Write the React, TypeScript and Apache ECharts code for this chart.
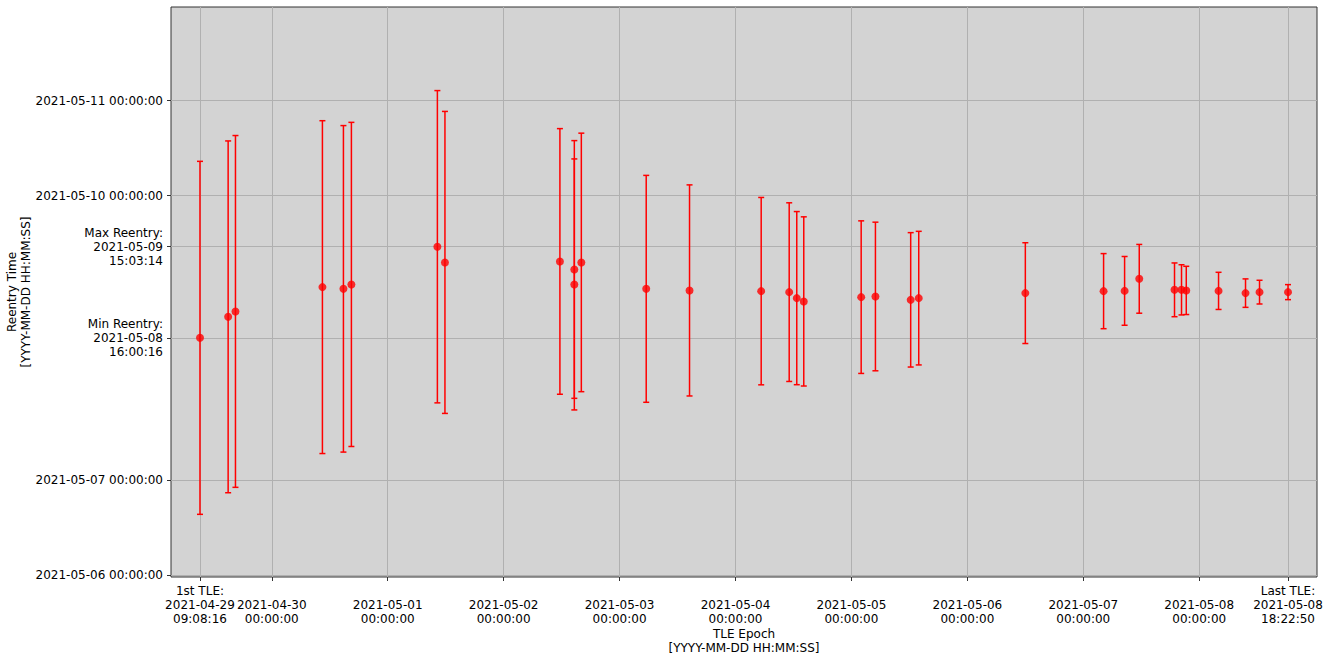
import React, { useEffect, useRef } from "react";
import * as echarts from "echarts";

// All times are UTC. Reentry day ticks are labelled in local time (UTC-4).
const tleEpochs = [
  "2021-04-29 09:08:16", "2021-04-29 14:58", "2021-04-29 16:29",
  "2021-04-30 10:29", "2021-04-30 14:50", "2021-04-30 16:29",
  "2021-05-01 10:17", "2021-05-01 11:51",
  "2021-05-02 11:39", "2021-05-02 14:38", "2021-05-02 14:38", "2021-05-02 16:05",
  "2021-05-03 05:31", "2021-05-03 14:29",
  "2021-05-04 05:19", "2021-05-04 11:07", "2021-05-04 12:41", "2021-05-04 14:08",
  "2021-05-05 02:01", "2021-05-05 04:58", "2021-05-05 12:16", "2021-05-05 13:56",
  "2021-05-06 12:00",
  "2021-05-07 04:12", "2021-05-07 08:33", "2021-05-07 11:35", "2021-05-07 18:53",
  "2021-05-07 20:20", "2021-05-07 21:19",
  "2021-05-08 04:00", "2021-05-08 09:35", "2021-05-08 12:29", "2021-05-08 18:22:50",
];

const reentryCenters = [
  "2021-05-08 16:00:16", "2021-05-08 21:19", "2021-05-08 22:41",
  "2021-05-09 04:50", "2021-05-09 04:24", "2021-05-09 05:31",
  "2021-05-09 15:03:14", "2021-05-09 11:05",
  "2021-05-09 11:20", "2021-05-09 09:18", "2021-05-09 05:31", "2021-05-09 11:05",
  "2021-05-09 04:24", "2021-05-09 04:00",
  "2021-05-09 03:49", "2021-05-09 03:34", "2021-05-09 02:03", "2021-05-09 01:13",
  "2021-05-09 02:18", "2021-05-09 02:28", "2021-05-09 01:37", "2021-05-09 02:03",
  "2021-05-09 03:19",
  "2021-05-09 03:49", "2021-05-09 03:53", "2021-05-09 06:56", "2021-05-09 04:09",
  "2021-05-09 04:09", "2021-05-09 04:00",
  "2021-05-09 03:53", "2021-05-09 03:19", "2021-05-09 03:34", "2021-05-09 03:34",
];

// half-width of the reentry window, hours
const windowHalfHours = [
  44.65, 44.5, 44.5, 42.1, 41.3, 41.0, 39.5, 38.2,
  33.6, 32.6, 31.75, 32.7, 28.7, 26.7,
  23.7, 22.6, 21.9, 21.4, 19.3, 18.8, 17.0, 16.9,
  12.75, 9.5, 8.7, 8.7, 6.8, 6.35, 6.1, 4.7, 3.6, 3.0, 1.9,
];

const xTickTimes = [
  "2021-04-29 09:08:16", "2021-04-30 00:00", "2021-05-01 00:00", "2021-05-02 00:00",
  "2021-05-03 00:00", "2021-05-04 00:00", "2021-05-05 00:00", "2021-05-06 00:00",
  "2021-05-07 00:00", "2021-05-08 00:00", "2021-05-08 18:22:50",
];
const xTickLabels = [
  "1st TLE:\n2021-04-29\n09:08:16", "\n2021-04-30\n00:00:00", "\n2021-05-01\n00:00:00",
  "\n2021-05-02\n00:00:00", "\n2021-05-03\n00:00:00", "\n2021-05-04\n00:00:00",
  "\n2021-05-05\n00:00:00", "\n2021-05-06\n00:00:00", "\n2021-05-07\n00:00:00",
  "\n2021-05-08\n00:00:00", "Last TLE:\n2021-05-08\n18:22:50",
];

const yTickTimes = [
  "2021-05-06 04:00", "2021-05-07 04:00", "2021-05-08 16:00:16",
  "2021-05-09 15:03:14", "2021-05-10 04:00", "2021-05-11 04:00",
];
const yTickLabels = [
  "2021-05-06 00:00:00", "2021-05-07 00:00:00", "Min Reentry:\n2021-05-08\n16:00:16",
  "Max Reentry:\n2021-05-09\n15:03:14", "2021-05-10 00:00:00", "2021-05-11 00:00:00",
];

const yRange = ["2021-05-06 03:30", "2021-05-12 03:42"];
const xPadHours = 6;

const t = (s: string) => Date.parse(s.replace(" ", "T") + (s.length === 16 ? ":00Z" : "Z"));
const H = 3600 * 1000;

export default function App() {
  const ref = useRef<HTMLDivElement>(null);
  useEffect(() => {
    if (!ref.current) return;
    const chart = echarts.init(ref.current, undefined, { renderer: "svg" });
    const xs = tleEpochs.map(t);
    const cs = reentryCenters.map(t);
    const xVals = xTickTimes.map(t);
    const yVals = yTickTimes.map(t);
    const findLabel = (vals: number[], labels: string[], v: number) => {
      let best = 0;
      for (let i = 1; i < vals.length; i++)
        if (Math.abs(vals[i] - v) < Math.abs(vals[best] - v)) best = i;
      return labels[best];
    };
    const font = "DejaVu Sans";
    const errData = xs.map((x, i) => [x, cs[i] - windowHalfHours[i] * H, cs[i] + windowHalfHours[i] * H]);
    const ptData = xs.map((x, i) => [x, cs[i]]);
    chart.setOption({
      animation: false,
      textStyle: { fontFamily: font },
      grid: {
        left: 171, top: 7, right: 18, bottom: 82,
        outerBoundsMode: "none",
        containLabel: false,
        show: true, backgroundColor: "#d3d3d3", borderColor: "#333", borderWidth: 1,
      },
      xAxis: {
        type: "value",
        min: xs[0] - xPadHours * H,
        max: xs[xs.length - 1] + xPadHours * H,
        name: "TLE Epoch\n[YYYY-MM-DD HH:MM:SS]",
        nameLocation: "middle",
        nameGap: 50,
        nameMoveOverlap: false,
        nameTextStyle: { fontFamily: font, fontSize: 12, color: "#000", lineHeight: 14, verticalAlign: "top" },
        axisLine: { show: false },
        axisTick: { show: true, customValues: xVals, length: 4, lineStyle: { color: "#333" } },
        axisLabel: {
          customValues: xVals, interval: 0, margin: 7,
          fontFamily: font, fontSize: 12, color: "#000", lineHeight: 14, align: "center",
          formatter: (v: number) => findLabel(xVals, xTickLabels, v),
        },
        splitLine: { show: true, lineStyle: { color: "#b0b0b0", width: 1 } },
      },
      yAxis: {
        type: "value",
        min: t(yRange[0]),
        max: t(yRange[1]),
        name: "Reentry Time\n[YYYY-MM-DD HH:MM:SS]",
        nameLocation: "middle",
        nameRotate: 90,
        nameGap: 138,
        nameMoveOverlap: false,
        nameTextStyle: { fontFamily: font, fontSize: 12, color: "#000", lineHeight: 14 },
        axisLine: { show: false },
        axisTick: { show: true, customValues: yVals, length: 4, lineStyle: { color: "#333" } },
        axisLabel: {
          customValues: yVals, interval: 0, margin: 8,
          fontFamily: font, fontSize: 12, color: "#000", lineHeight: 14, align: "right",
          formatter: (v: number) => findLabel(yVals, yTickLabels, v),
        },
        splitLine: { show: true, lineStyle: { color: "#b0b0b0", width: 1 } },
      },
      series: [
        {
          type: "custom",
          data: errData,
          encode: { x: 0, y: [1, 2] },
          z: 3,
          renderItem: (params: any, api: any) => {
            const x = api.value(0);
            const lo = api.coord([x, api.value(1)]);
            const hi = api.coord([x, api.value(2)]);
            const w = 3;
            const style = { stroke: "#ff0000", lineWidth: 1.5 };
            return {
              type: "group",
              children: [
                { type: "line", shape: { x1: lo[0], y1: lo[1], x2: hi[0], y2: hi[1] }, style },
                { type: "line", shape: { x1: lo[0] - w, y1: lo[1], x2: lo[0] + w, y2: lo[1] }, style },
                { type: "line", shape: { x1: hi[0] - w, y1: hi[1], x2: hi[0] + w, y2: hi[1] }, style },
              ],
            };
          },
        },
        {
          type: "scatter",
          data: ptData,
          symbol: "circle",
          symbolSize: 8,
          z: 4,
          itemStyle: { color: "#ff0000" },
        },
      ],
    });
    return () => chart.dispose();
  }, []);
  return (
    <div
      ref={ref}
      style={{ position: "fixed", left: 0, top: 0, width: 1335, height: 659, background: "#fff" }}
    />
  );
}
